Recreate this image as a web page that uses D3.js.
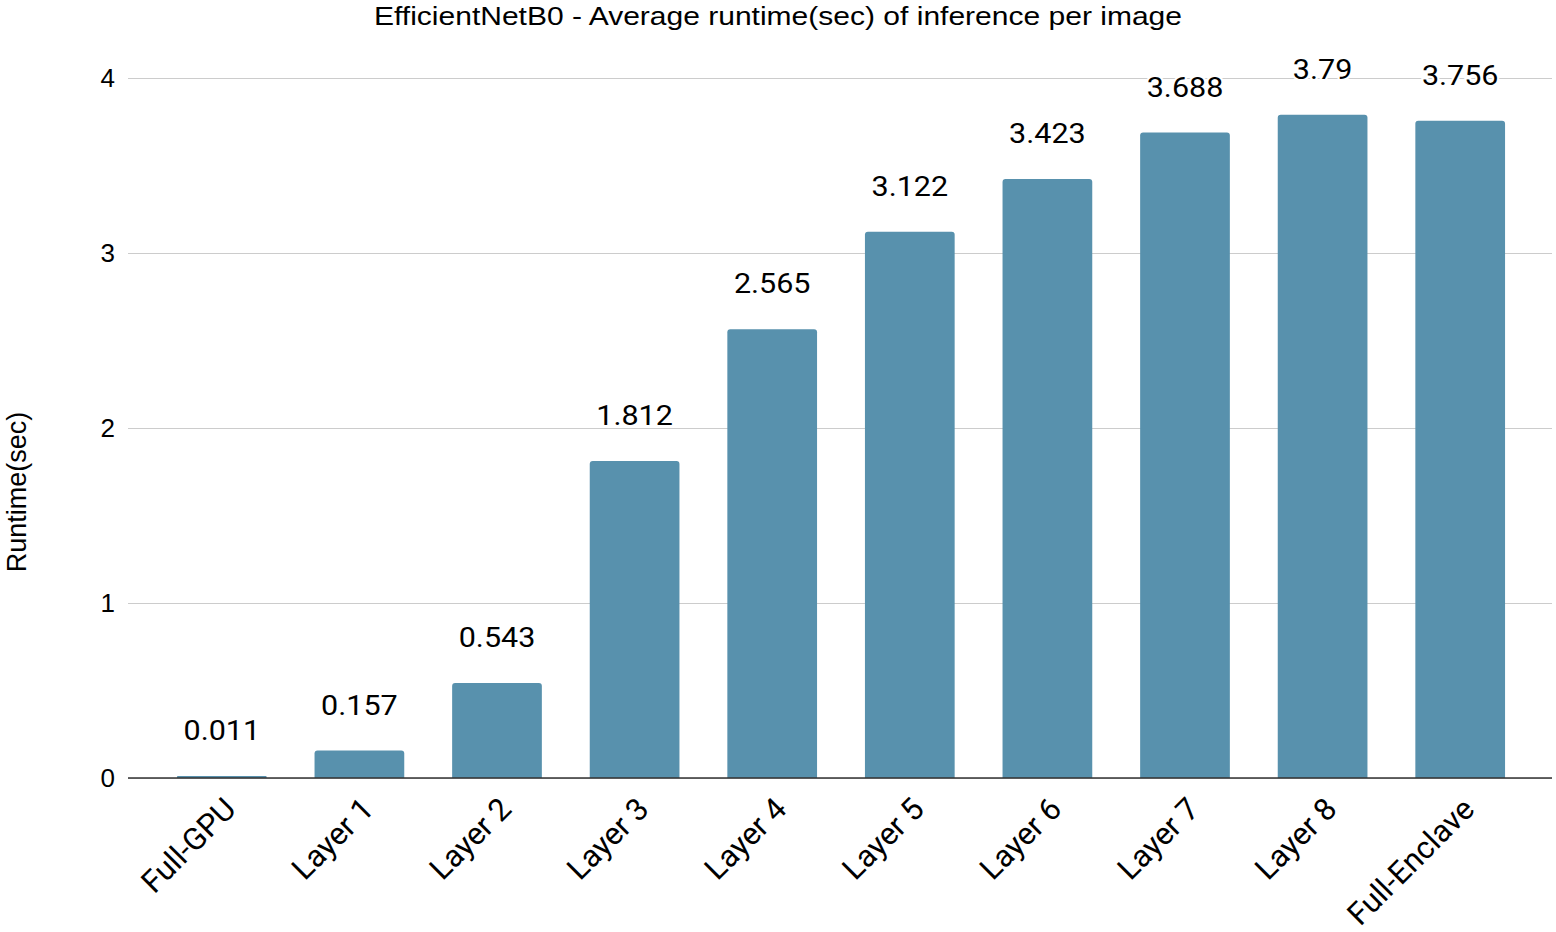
<!DOCTYPE html>
<html>
<head>
<meta charset="utf-8">
<script src="https://cdn.jsdelivr.net/npm/d3@7"></script>
<style>
  body { margin: 0; background: #fff; }
  svg { display: block; }
</style>
</head>
<body>
<svg id="chart"></svg>
<script>
// chart data
let categories = ['Full-GPU', 'Layer 1', 'Layer 2', 'Layer 3', 'Layer 4', 'Layer 5', 'Layer 6', 'Layer 7', 'Layer 8', 'Full-Enclave']
let runtimes = [0.011, 0.157, 0.543, 1.812, 2.565, 3.122, 3.423, 3.688, 3.79, 3.756]
let yTicks = [0, 1, 2, 3, 4]

let width = 1556
let height = 932

// plot box
let plotLeft = 128
let plotRight = 1552
let plotTop = 78
let plotBottom = 778

// the source picture is a bit wider than tall, so text is stretched sideways
let stretch = 1.09

let svg = d3.select('#chart')
    .attr('width', width)
    .attr('height', height)

let xScale = d3.scaleBand()
    .domain(categories)
    .range([153, 1529])
    .paddingInner(0.348)
    .paddingOuter(0.174)

let yScale = d3.scaleLinear()
    .domain([0, 4])
    .range([plotBottom, plotTop])

// title
svg.append('text')
    .attr('x', 374)
    .attr('y', 25)
    .attr('textLength', 808)
    .attr('lengthAdjust', 'spacingAndGlyphs')
    .style('font-family', '"Liberation Sans", Arial, sans-serif')
    .style('font-size', '26px')
    .attr('fill', '#000')
    .text('EfficientNetB0 - Average runtime(sec) of inference per image')

// gridlines + y tick labels
let yAxis = d3.axisLeft(yScale)
    .tickValues(yTicks)
    .tickSize(-(plotRight - plotLeft))
    .tickPadding(13)
    .tickFormat(d3.format('d'))

let yG = svg.append('g')
    .attr('transform', 'translate(' + plotLeft + ',0)')
    .call(yAxis)
yG.select('.domain').remove()
yG.selectAll('.tick line')
    .attr('stroke', '#cccccc')
    .attr('stroke-width', 1.2)
yG.selectAll('.tick text')
    .style('font-family', '"Liberation Sans", Arial, sans-serif')
    .style('font-size', '26px')
    .attr('fill', '#000')

// y axis title
svg.append('text')
    .attr('transform', 'translate(26,492) rotate(-90)')
    .attr('text-anchor', 'middle')
    .style('font-family', '"Liberation Sans", Arial, sans-serif')
    .style('font-size', '27px')
    .attr('fill', '#000')
    .text('Runtime(sec)')

// bars with slightly rounded tops
let barPath = (d, i) => {
    let x0 = xScale(categories[i])
    let w = xScale.bandwidth()
    let y0 = yScale(d)
    let y1 = yScale(0)
    let r = Math.min(3, (y1 - y0) / 2)
    return 'M' + x0 + ',' + y1 +
        'V' + (y0 + r) +
        'Q' + x0 + ',' + y0 + ' ' + (x0 + r) + ',' + y0 +
        'H' + (x0 + w - r) +
        'Q' + (x0 + w) + ',' + y0 + ' ' + (x0 + w) + ',' + (y0 + r) +
        'V' + y1 + 'Z'
}

svg.selectAll('.bar')
    .data(runtimes)
    .enter()
    .append('path')
    .attr('class', 'bar')
    .attr('d', barPath)
    .attr('fill', '#5891ad')

// baseline
svg.append('line')
    .attr('x1', plotLeft)
    .attr('x2', plotRight)
    .attr('y1', yScale(0))
    .attr('y2', yScale(0))
    .attr('stroke', '#333')
    .attr('stroke-width', 1.5)

// value labels
svg.selectAll('.value')
    .data(runtimes)
    .enter()
    .append('text')
    .attr('class', 'value')
    .attr('transform', (d, i) => 'translate(' + (xScale(categories[i]) + xScale.bandwidth() / 2) + ',' + (yScale(d) - 36) + ') scale(' + stretch + ',1)')
    .attr('text-anchor', 'middle')
    .style('font-family', 'Roboto, sans-serif')
    .style('font-size', '28px')
    .attr('fill', '#000')
    .attr('stroke', '#fff')
    .attr('stroke-width', 4)
    .attr('paint-order', 'stroke')
    .text((d) => d)

// x labels, rotated
let xAxis = d3.axisBottom(xScale).tickSize(0).tickPadding(0)
let xG = svg.append('g')
    .attr('transform', 'translate(0,' + plotBottom + ')')
    .call(xAxis)
xG.select('.domain').remove()
xG.selectAll('.tick text')
    .attr('text-anchor', 'end')
    .attr('dy', 0)
    .attr('transform', 'translate(16,33) rotate(-45)')
    .style('font-family', 'Roboto, sans-serif')
    .style('font-size', '31px')
    .attr('fill', '#000')
</script>
</body>
</html>
